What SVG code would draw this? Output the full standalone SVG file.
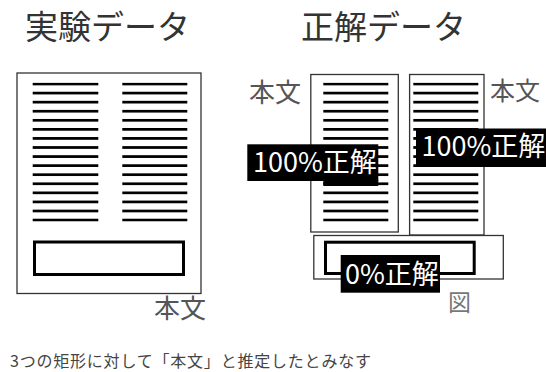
<svg xmlns="http://www.w3.org/2000/svg" width="546" height="372" viewBox="0 0 546 372">
<defs>
<style>
text{font-family:"Noto Sans CJK JP","Noto Sans",sans-serif}
.title{font-size:33px;fill:#333}
.lbl{font-size:26px;fill:#555}
.tag{font-size:27px;fill:#fff}
.box{fill:#fff;stroke:#333;stroke-width:1.3}
.thick{fill:none;stroke:#000;stroke-width:3}
.blk{fill:#000}
</style>
<pattern id="linesL" x="0" y="82.65" width="10" height="9.07" patternUnits="userSpaceOnUse">
<rect x="0" y="0" width="10" height="2.7" fill="#000"/>
</pattern>
</defs>
<rect width="546" height="372" fill="#fff"/>
<g id="title-exp"><text class="title" x="25" y="39">実験データ</text></g>
<g id="title-gt"><text class="title" x="301" y="39">正解データ</text></g>

<g id="exp-page">
<rect class="box" x="17" y="73" width="184" height="220.5"/>
<rect x="32.7" y="82.65" width="65.6" height="139" fill="url(#linesL)"/>
<rect x="122.3" y="82.65" width="65" height="139" fill="url(#linesL)"/>
<rect class="thick" x="34.5" y="242" width="149" height="32.5"/>
</g>
<g id="exp-label"><text class="lbl" x="154" y="318">本文</text></g>

<g id="gt-col1">
<rect class="box" x="310.8" y="74.5" width="87.5" height="157.5"/>
<rect x="323.3" y="82.65" width="65" height="139" fill="url(#linesL)"/>
</g>
<g id="gt-col2">
<rect class="box" x="409.6" y="74.5" width="74.4" height="160.5"/>
<rect x="413.3" y="82.65" width="65" height="139" fill="url(#linesL)"/>
</g>
<g id="gt-fig">
<rect class="box" x="313.8" y="235.5" width="189.5" height="43.5"/>
<rect class="thick" x="325.5" y="242.2" width="148.7" height="31.3"/>
</g>
<g id="gt-label1"><text class="lbl" x="249" y="101.5">本文</text></g>
<g id="gt-label2"><text class="lbl" x="490" y="100" style="font-size:25px">本文</text></g>
<g id="gt-label3"><text x="448" y="311" style="font-size:23px;fill:#777">図</text></g>

<g id="tag-left">
<rect class="blk" x="247.3" y="144.3" width="131" height="36.7"/>
<rect class="blk" x="323.3" y="180" width="55" height="6"/>
<text class="tag" x="253" y="171.5">100%正解</text>
</g>
<g id="tag-right">
<rect class="blk" x="416" y="128.5" width="130" height="38.5"/>
<text class="tag" x="421.5" y="155.5">100%正解</text>
</g>
<g id="tag-fig">
<rect class="blk" x="340.7" y="255" width="99.3" height="37.7"/>
<text class="tag" x="345" y="283.5">0%正解</text>
</g>

<g id="connectors"></g>

<g id="caption"><text x="10" y="367" style="font-size:16px;fill:#444" textLength="361" lengthAdjust="spacing">3つの矩形に対して「本文」と推定したとみなす</text></g>
</svg>
